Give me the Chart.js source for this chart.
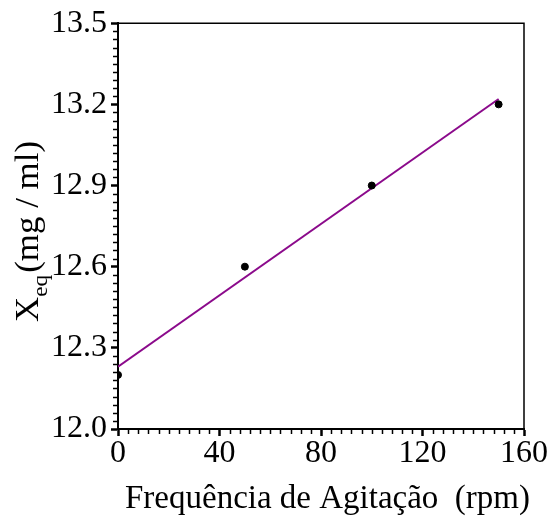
<!DOCTYPE html>
<html>
<head>
<meta charset="utf-8">
<script src="https://cdn.jsdelivr.net/npm/chart.js@4.4.1/dist/chart.umd.min.js"></script>
<style>
  html, body { margin: 0; padding: 0; background: #ffffff; }
  #wrap { width: 552px; height: 517px; }
</style>
</head>
<body>
<div id="wrap"><canvas id="chart" width="552" height="517"></canvas></div>
<script>
// Agitation speed (rpm) and equilibrium concentration (mg/ml)
const rpm = [0, 50, 100, 150];
const xeq = [12.2, 12.6, 12.9, 13.2];

// Linear fit drawn across the measured range
const fitRpm = [0, 150];
const fitXeq = [12.23, 13.22];

// Axis ranges and tick spacing
const xMin = 0, xMax = 160, xStep = 40, xMinorStep = 4;
const yMin = 12.0, yMax = 13.5, yStep = 0.3, yMinorStep = 0.03;

const FONT = "'Liberation Serif', 'Times New Roman', serif";

const pointData = rpm.map((r, i) => ({ x: r, y: xeq[i] }));
const fitData = fitRpm.map((r, i) => ({ x: r, y: fitXeq[i] }));

// Minor ticks, frame and axis titles
const decorPlugin = {
  id: 'decor',
  afterDraw(chart) {
    const ctx = chart.ctx;
    const { left, right, top, bottom } = chart.chartArea;
    const xs = chart.scales.x, ys = chart.scales.y;
    ctx.save();
    ctx.strokeStyle = '#000';
    ctx.lineWidth = 1.5;
    // minor ticks on y
    const nY = Math.round((yMax - yMin) / yMinorStep);
    for (let i = 0; i <= nY; i++) {
      if (i % 10 === 0) continue;
      const py = Math.round(ys.getPixelForValue(yMin + i * yMinorStep)) + 0.5;
      ctx.beginPath();
      ctx.moveTo(left - 5, py);
      ctx.lineTo(left, py);
      ctx.stroke();
    }
    // minor ticks on x
    const nX = Math.round((xMax - xMin) / xMinorStep);
    for (let i = 0; i <= nX; i++) {
      if (i % 10 === 0) continue;
      const px = Math.round(xs.getPixelForValue(xMin + i * xMinorStep)) + 0.5;
      ctx.beginPath();
      ctx.moveTo(px, bottom);
      ctx.lineTo(px, bottom + 5);
      ctx.stroke();
    }
    // top and right frame
    ctx.lineWidth = 1.5;
    ctx.beginPath();
    ctx.moveTo(left, top);
    ctx.lineTo(right, top);
    ctx.lineTo(right, bottom);
    ctx.stroke();

    // x title
    ctx.fillStyle = '#000';
    ctx.font = '33px ' + FONT;
    ctx.textAlign = 'center';
    ctx.textBaseline = 'alphabetic';
    ctx.fillText('Frequência de Agitação  (rpm)', 327.5, 508);

    // y title with subscript, slightly stretched along its length
    ctx.translate(38, 231.5);
    ctx.rotate(-Math.PI / 2);
    const mainFont = '33px ' + FONT;
    const subFont = '22px ' + FONT;
    ctx.font = mainFont;
    const wX = ctx.measureText('X').width;
    const wRest = ctx.measureText('(mg / ml)').width;
    ctx.font = subFont;
    const wSub = ctx.measureText('eq').width + 2;
    const total = wX + wSub + wRest;
    ctx.scale(181 / total, 1);
    let cx = -total / 2;
    ctx.textAlign = 'left';
    ctx.font = mainFont;
    ctx.fillText('X', cx, 0);
    cx += wX;
    ctx.font = subFont;
    ctx.fillText('eq', cx, 9);
    cx += wSub;
    ctx.font = mainFont;
    ctx.fillText('(mg / ml)', cx, 0);
    ctx.restore();
  }
};

new Chart(document.getElementById('chart'), {
  type: 'scatter',
  data: {
    datasets: [
      {
        type: 'scatter',
        data: pointData,
        backgroundColor: '#000',
        borderColor: '#000',
        pointRadius: 3.5,
        pointHoverRadius: 3.5,
        order: 0
      },
      {
        type: 'line',
        data: fitData,
        borderColor: '#8B0A8B',
        borderWidth: 2,
        pointRadius: 0,
        fill: false,
        order: 1
      }
    ]
  },
  options: {
    responsive: false,
    animation: false,
    events: [],
    layout: { padding: { left: 0, top: 22, right: 28, bottom: 0 } },
    plugins: { legend: { display: false }, tooltip: { enabled: false } },
    scales: {
      x: {
        type: 'linear',
        min: xMin, max: xMax,
        afterFit(scale) { scale.height = 88; },
        border: { display: true, color: '#000', width: 2 },
        grid: { drawOnChartArea: false, drawTicks: true, tickLength: 7, tickWidth: 2.5, tickColor: '#000' },
        ticks: {
          stepSize: xStep,
          color: '#000',
          padding: -2,
          maxRotation: 0,
          font: { family: FONT, size: 32 },
          callback: v => String(v)
        }
      },
      y: {
        type: 'linear',
        min: yMin, max: yMax,
        afterFit(scale) { scale.width = 118; },
        border: { display: true, color: '#000', width: 2 },
        grid: { drawOnChartArea: false, drawTicks: true, tickLength: 7, tickWidth: 2.5, tickColor: '#000' },
        ticks: {
          stepSize: yStep,
          color: '#000',
          padding: 4,
          font: { family: FONT, size: 32 },
          callback: v => Number(v).toFixed(1)
        }
      }
    }
  },
  plugins: [decorPlugin]
});
</script>
</body>
</html>
